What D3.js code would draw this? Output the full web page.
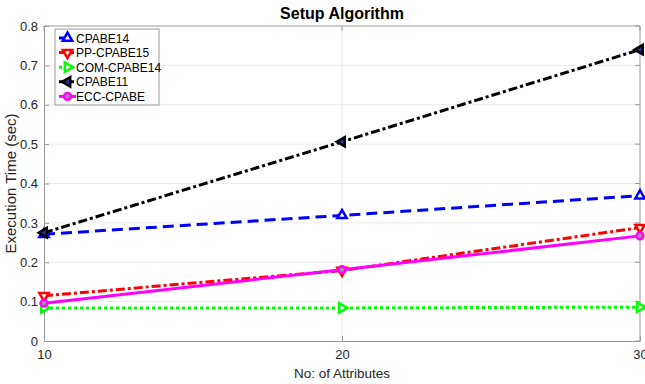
<!DOCTYPE html>
<html>
<head>
<meta charset="utf-8">
<script src="https://cdn.jsdelivr.net/npm/d3@7"></script>
<style>
  body { margin: 0; background: #fff; }
  text { font-family: "Liberation Sans", Arial, sans-serif; }
</style>
</head>
<body>
<div id="chart"></div>
<script>
// chart data
var attributes = [10, 20, 30];
var cpabe14 = [0.271, 0.319, 0.369];
var ppCpabe15 = [0.115, 0.179, 0.288];
var comCpabe14 = [0.084, 0.084, 0.086];
var cpabe11 = [0.275, 0.506, 0.740];
var eccCpabe = [0.096, 0.181, 0.267];
var xTicks = [10, 20, 30];
var yTicks = [0, 0.1, 0.2, 0.3, 0.4, 0.5, 0.6, 0.7, 0.8];

var series = [
	{ name: 'CPABE14', values: cpabe14, color: '#0000ff', dash: '11,6', marker: 'up', fill: '#fff' },
	{ name: 'PP-CPABE15', values: ppCpabe15, color: '#ff0000', dash: '9,3,3,3', marker: 'down', fill: '#fff' },
	{ name: 'COM-CPABE14', values: comCpabe14, color: '#00ff00', dash: '3,3', marker: 'right', fill: '#fff' },
	{ name: 'CPABE11', values: cpabe11, color: '#000000', dash: '9,3,3,3', marker: 'left', fill: '#2233aa' },
	{ name: 'ECC-CPABE', values: eccCpabe, color: '#ff00ff', dash: null, marker: 'circle', fill: '#999' }
];

var width = 645,
    height = 384,
    margin = { top: 26, right: 5, bottom: 43, left: 44 };

var svg = d3.select('#chart').append('svg')
	.attr('width', width)
	.attr('height', height);

var x = d3.scaleLinear().domain([10, 30]).range([margin.left, width - margin.right]);
var y = d3.scaleLinear().domain([0, 0.8]).range([height - margin.bottom, margin.top]);

// grid
svg.append('g').selectAll('line.gy').data(yTicks.slice(1, -1)).enter()
	.append('line')
	.attr('x1', x.range()[0]).attr('x2', x.range()[1])
	.attr('y1', d => y(d)).attr('y2', d => y(d))
	.attr('stroke', '#ebebeb').attr('stroke-width', 1);
svg.append('g').selectAll('line.gx').data([20]).enter()
	.append('line')
	.attr('x1', d => x(d)).attr('x2', d => x(d))
	.attr('y1', y.range()[0]).attr('y2', y.range()[1])
	.attr('stroke', '#ebebeb').attr('stroke-width', 1);

// axes
var xAxis = d3.axisBottom(x).tickValues(xTicks).tickSizeInner(-5).tickSizeOuter(0).tickPadding(9);
var yAxis = d3.axisLeft(y).tickValues(yTicks).tickSizeInner(-5).tickSizeOuter(0).tickPadding(6)
	.tickFormat(d => d === 0 ? '0' : d3.format('.1f')(d));

var gx = svg.append('g').attr('transform', `translate(0,${y(0)})`).call(xAxis);
var gy = svg.append('g').attr('transform', `translate(${x(10)},0)`).call(yAxis);
[gx, gy].forEach(function(g) {
	g.select('.domain').attr('stroke', '#999');
	g.selectAll('.tick line').attr('stroke', '#999');
	g.selectAll('.tick text').attr('fill', '#262626').style('font-size', '13px');
});

// top / right box with ticks
svg.append('line').attr('x1', x(10)).attr('x2', x(30)).attr('y1', y(0.8)).attr('y2', y(0.8)).attr('stroke', '#999');
svg.append('line').attr('x1', x(30)).attr('x2', x(30)).attr('y1', y(0)).attr('y2', y(0.8)).attr('stroke', '#999');
svg.append('g').selectAll('line').data(yTicks).enter().append('line')
	.attr('x1', x(30)).attr('x2', x(30) - 5).attr('y1', d => y(d)).attr('y2', d => y(d)).attr('stroke', '#999');
svg.append('g').selectAll('line').data(xTicks).enter().append('line')
	.attr('x1', d => x(d)).attr('x2', d => x(d)).attr('y1', y(0.8)).attr('y2', y(0.8) + 5).attr('stroke', '#999');

// lines
var line = d3.line().x((d, i) => x(attributes[i])).y(d => y(d));

var markerPath = {
	up: d3.symbol().type(d3.symbolTriangle).size(38),
	down: d3.symbol().type(d3.symbolTriangle).size(38),
	right: d3.symbol().type(d3.symbolTriangle).size(38),
	left: d3.symbol().type(d3.symbolTriangle).size(38),
	circle: d3.symbol().type(d3.symbolCircle).size(36)
};
var markerRot = { up: 0, down: 180, right: 90, left: -90, circle: 0 };

function drawMarker(g, s, cx, cy) {
	g.append('path')
		.attr('d', markerPath[s.marker]())
		.attr('transform', `translate(${cx},${cy}) rotate(${markerRot[s.marker]})`)
		.attr('fill', s.fill)
		.attr('stroke', s.color)
		.attr('stroke-width', 2.5);
}

var plot = svg.append('g');
series.forEach(function(s) {
	plot.append('path')
		.datum(s.values)
		.attr('d', line)
		.attr('fill', 'none')
		.attr('stroke', s.color)
		.attr('stroke-width', 3)
		.attr('stroke-dasharray', s.dash);
	s.values.forEach(function(v, i) {
		drawMarker(plot, s, x(attributes[i]), y(v));
	});
});

// legend
var legend = svg.append('g').attr('transform', 'translate(55,29)');
legend.append('rect').attr('width', 104).attr('height', 76)
	.attr('fill', '#fff').attr('stroke', '#999').attr('stroke-width', 1);
series.forEach(function(s, i) {
	var ly = 9 + i * 14.6;
	legend.append('line').attr('x1', 4).attr('x2', 21).attr('y1', ly).attr('y2', ly)
		.attr('stroke', s.color).attr('stroke-width', 3).attr('stroke-dasharray', s.dash);
	drawMarker(legend, s, 12.5, ly);
	legend.append('text').attr('x', 21).attr('y', ly + 4.5)
		.style('font-size', '12px').attr('fill', '#000').text(s.name);
});

// title and labels
svg.append('text').attr('x', (x(10) + x(30)) / 2).attr('y', 19)
	.attr('text-anchor', 'middle').style('font-size', '16px').style('font-weight', 'bold')
	.attr('fill', '#000').text('Setup Algorithm');
svg.append('text').attr('x', (x(10) + x(30)) / 2).attr('y', 378)
	.attr('text-anchor', 'middle').style('font-size', '13.5px').attr('fill', '#262626')
	.text('No: of Attributes');
svg.append('text').attr('transform', `translate(16,${(y(0) + y(0.8)) / 2}) rotate(-90)`)
	.attr('text-anchor', 'middle').style('font-size', '15px').attr('fill', '#262626')
	.text('Execution Time (sec)');
</script>
</body>
</html>
